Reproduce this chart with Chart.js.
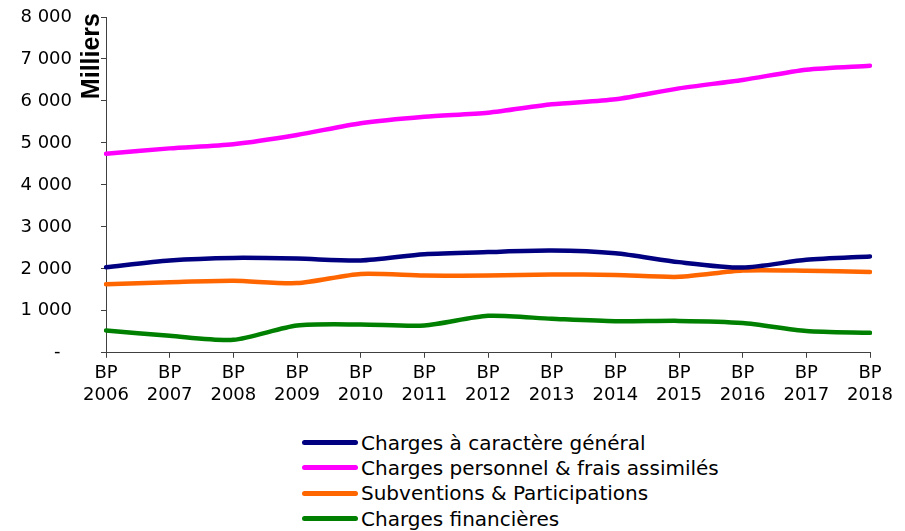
<!DOCTYPE html>
<html>
<head>
    <title>Charges BP 2006-2018</title>
    <script src="https://cdn.jsdelivr.net/npm/chart.js@4/dist/chart.umd.min.js"></script>
    <style>
        body { margin: 0; background: #fff; }
        #wrap { position: relative; width: 905px; height: 531px; }
        #chartBox { position: absolute; left: 0; top: 0; width: 905px; height: 411px; }
        #legend { position: absolute; left: 302px; top: 430px; font-family: "DejaVu Sans", sans-serif; font-size: 20px; color: #000; }
        .item { display: flex; align-items: center; height: 25.3px; white-space: nowrap; }
        .swatch { width: 56px; height: 5px; border-radius: 3px; margin-right: 3px; }
    </style>
</head>
<body>
    <div id="wrap">
        <div id="chartBox"><canvas id="chart"></canvas></div>
        <div id="legend"></div>
    </div>
    <script>
        const years = ['2006', '2007', '2008', '2009', '2010', '2011', '2012', '2013', '2014', '2015', '2016', '2017', '2018'];
        const seriesNames = [
            'Charges à caractère général',
            'Charges personnel & frais assimilés',
            'Subventions & Participations',
            'Charges financières'
        ];
        const seriesColors = ['#000080', '#ff00ff', '#ff6600', '#008000'];

        // values in milliers
        const chargesGenerales = [2040, 2200, 2260, 2245, 2200, 2350, 2400, 2435, 2370, 2160, 2030, 2215, 2295];
        const chargesPersonnel = [4740, 4870, 4970, 5190, 5470, 5625, 5720, 5920, 6040, 6300, 6500, 6745, 6840];
        const subventions = [1635, 1680, 1715, 1660, 1880, 1840, 1840, 1865, 1855, 1810, 1960, 1955, 1925];
        const chargesFinancieres = [530, 405, 310, 650, 675, 650, 880, 810, 750, 760, 710, 520, 475];

        const allSeries = [chargesGenerales, chargesPersonnel, subventions, chargesFinancieres];

        const tickFont = { family: 'DejaVu Sans', size: 18 };
        const axisColor = '#404040';

        function fmt(v) {
            if (v === 0) return '-  ';
            return String(v).replace(/\B(?=(\d{3})+(?!\d))/g, ' ');
        }

        // "Milliers" sits between the tick labels and the axis line
        const unitTitle = {
            id: 'unitTitle',
            afterDraw(chart) {
                const ctx = chart.ctx;
                const y = chart.scales.y;
                ctx.save();
                ctx.translate(y.right - 7, y.top - 4);
                ctx.rotate(-Math.PI / 2);
                ctx.font = 'bold 25px "Liberation Sans", Arial, sans-serif';
                ctx.fillStyle = '#000';
                ctx.textAlign = 'right';
                ctx.textBaseline = 'alphabetic';
                ctx.fillText('Milliers', 0, 0);
                ctx.restore();
            }
        };

        const datasets = allSeries.map((data, i) => ({
            label: seriesNames[i],
            data: data,
            borderColor: seriesColors[i],
            backgroundColor: seriesColors[i],
            borderWidth: 4.5,
            borderCapStyle: 'round',
            borderJoinStyle: 'round',
            pointRadius: 0,
            tension: 0.25,
            fill: false
        }));

        new Chart(document.getElementById('chart'), {
            type: 'line',
            data: {
                labels: years.map(y => ['BP', y]),
                datasets: datasets
            },
            options: {
                responsive: true,
                maintainAspectRatio: false,
                animation: false,
                layout: { padding: { left: 18, right: 35, top: 17, bottom: 0 } },
                plugins: {
                    legend: { display: false },
                    tooltip: { enabled: false }
                },
                scales: {
                    x: {
                        offset: false,
                        grid: { drawOnChartArea: false, tickLength: 5, color: axisColor },
                        border: { color: axisColor },
                        ticks: { font: tickFont, color: '#000', maxRotation: 0, autoSkip: false, padding: 5 }
                    },
                    y: {
                        min: 0,
                        max: 8000,
                        afterFit(scale) {
                            scale.width = 88;
                            // the wide label padding should not push the plot down
                            scale.paddingTop = 0;
                            scale.paddingBottom = 0;
                        },
                        grid: { drawOnChartArea: false, tickLength: 5, color: axisColor },
                        border: { color: axisColor },
                        ticks: { font: tickFont, color: '#000', stepSize: 1000, padding: 29, callback: fmt }
                    }
                }
            },
            plugins: [unitTitle]
        });

        const legendEl = document.getElementById('legend');
        seriesNames.forEach((name, i) => {
            const row = document.createElement('div');
            row.className = 'item';
            const sw = document.createElement('span');
            sw.className = 'swatch';
            sw.style.background = seriesColors[i];
            const txt = document.createElement('span');
            txt.textContent = name;
            row.appendChild(sw);
            row.appendChild(txt);
            legendEl.appendChild(row);
        });
    </script>
</body>
</html>
